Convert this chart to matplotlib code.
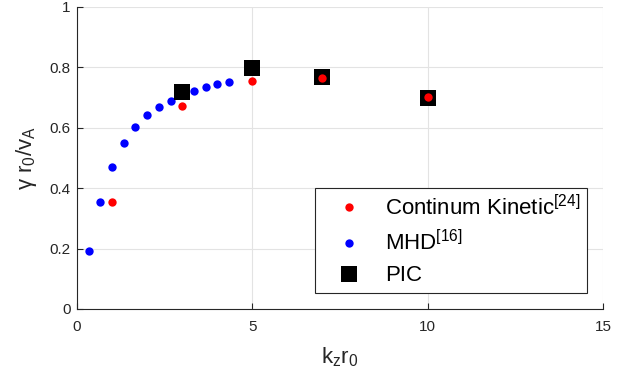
import matplotlib
matplotlib.use("Agg")
import matplotlib.pyplot as plt

plt.rcParams['font.family'] = ['Liberation Sans', 'DejaVu Sans']
plt.rcParams['mathtext.fontset'] = 'custom'
plt.rcParams['mathtext.rm'] = 'Liberation Sans'
plt.rcParams['mathtext.it'] = 'Liberation Sans'
plt.rcParams['mathtext.bf'] = 'Liberation Sans:bold'

# Growth rate data
mhd_k = [0.333, 0.667, 1.0, 1.333, 1.667, 2.0, 2.333, 2.667, 3.0, 3.333, 3.667, 4.0, 4.333]
mhd_g = [0.193, 0.353, 0.469, 0.549, 0.604, 0.641, 0.670, 0.690, 0.708, 0.722, 0.734, 0.745, 0.751]

kin_k = [1.0, 3.0, 5.0, 7.0, 10.0]
kin_g = [0.353, 0.673, 0.754, 0.764, 0.703]

pic_k = [3.0, 5.0, 7.0, 10.0]
pic_g = [0.720, 0.799, 0.767, 0.700]

xticks = [0, 5, 10, 15]
yticks = [0, 0.2, 0.4, 0.6, 0.8, 1]
ytick_labels = ['0', '0.2', '0.4', '0.6', '0.8', '1']

fig = plt.figure(figsize=(6.23, 3.72), dpi=100)
ax = fig.add_axes([0.1236, 0.1694, 0.8443, 0.8118])

h_mhd, = ax.plot(mhd_k, mhd_g, 'o', color='#0000ff', markersize=6, markeredgewidth=0, zorder=3)
h_pic, = ax.plot(pic_k, pic_g, 's', color='black', markersize=11.5, markeredgewidth=0, zorder=4)
h_kin, = ax.plot(kin_k, kin_g, 'o', color='#ff0000', markersize=6, markeredgewidth=0, zorder=5)

ax.set_xlim(0, 15)
ax.set_ylim(0, 1)
ax.set_xticks(xticks)
ax.set_yticks(yticks)
ax.set_yticklabels(ytick_labels)
ax.grid(True, color='#e3e3e3', linewidth=0.8)
ax.set_axisbelow(True)

for side in ['top', 'right']:
    ax.spines[side].set_visible(False)
for side in ['left', 'bottom']:
    ax.spines[side].set_color('#262626')
    ax.spines[side].set_linewidth(0.8)

ax.tick_params(direction='in', length=4, width=0.8, colors='#262626', labelsize=11)
ax.tick_params(axis='x', pad=8)
ax.tick_params(axis='y', pad=4.5)

ax.set_xlabel(r'$\mathrm{k_z r_0}$', fontsize=16, color='#262626', labelpad=8)
ax.set_ylabel(r'$\mathrm{\gamma\ r_0/v_A}$', fontsize=16, color='#262626', labelpad=8)

leg = ax.legend([h_kin, h_mhd, h_pic],
                ['Continum Kinetic$^{[24]}$', r'MHD$^{[16]}$', 'PIC'],
                loc='lower right', bbox_to_anchor=(0.97, 0.053),
                fontsize=16, frameon=True, fancybox=False,
                edgecolor='#262626', framealpha=1,
                handlelength=2.46, handletextpad=0.39, borderpad=0.3,
                labelspacing=0.45, borderaxespad=0)
leg.get_frame().set_linewidth(0.8)

fig.savefig('out.png', dpi=100)
